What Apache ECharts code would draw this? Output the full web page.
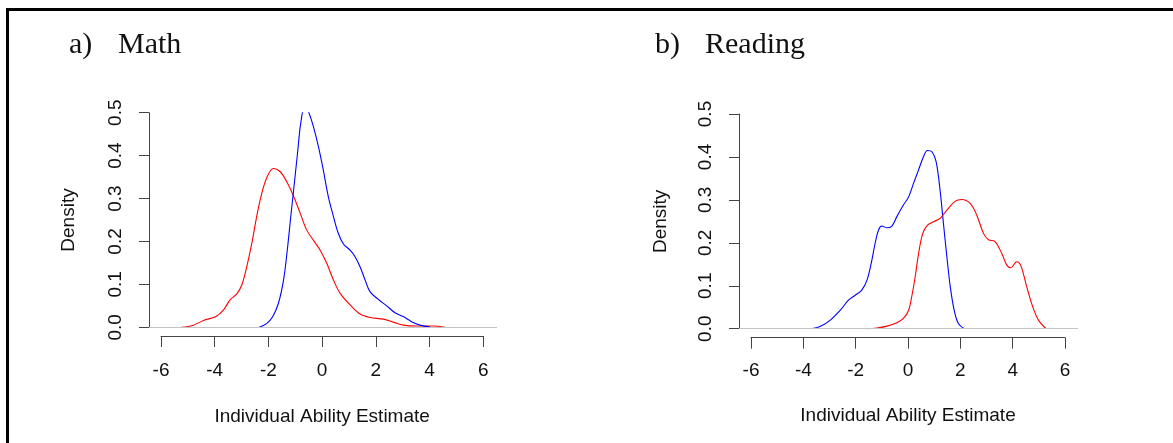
<!DOCTYPE html>
<html>
<head>
<meta charset="utf-8">
<script src="https://cdn.jsdelivr.net/npm/echarts@6/dist/echarts.min.js"></script>
<style>
  html, body { margin: 0; padding: 0; background: #fff; }
  #chart { width: 1173px; height: 443px; }
</style>
</head>
<body>
<div id="chart"></div>
<script>
// x ticks and y ticks shared by both panels
var xTicks = [-6, -4, -2, 0, 2, 4, 6];
var yTicks = [0, 0.1, 0.2, 0.3, 0.4, 0.5];

// a) Math - red curve
var mathRedX = [-5.27, -4.81, -4.44, -3.98, -3.70, -3.45, -3.20, -3.01, -2.83, -2.64, -2.46, -2.27, -2.08, -1.84, -1.59, -1.34, -1.09, -0.84, -0.60, -0.35, -0.10, 0.15, 0.40, 0.65, 1.02, 1.39, 1.76, 2.26, 2.63, 3.00, 3.50, 4.12, 4.55];
var mathRedY = [0.000, 0.005, 0.016, 0.025, 0.040, 0.064, 0.078, 0.099, 0.141, 0.196, 0.258, 0.312, 0.349, 0.370, 0.363, 0.339, 0.306, 0.266, 0.227, 0.203, 0.180, 0.149, 0.110, 0.079, 0.052, 0.031, 0.023, 0.019, 0.012, 0.005, 0.003, 0.003, 0.000];
// a) Math - blue curve
var mathBlueX = [-2.36, -2.08, -1.86, -1.65, -1.46, -1.32, -1.19, -1.07, -0.94, -0.82, -0.67, -0.53, -0.35, -0.16, 0.02, 0.21, 0.40, 0.58, 0.77, 1.02, 1.20, 1.39, 1.58, 1.76, 2.07, 2.38, 2.69, 3.00, 3.31, 3.62, 3.99];
var mathBlueY = [0.000, 0.009, 0.025, 0.056, 0.110, 0.180, 0.258, 0.328, 0.405, 0.475, 0.515, 0.502, 0.468, 0.421, 0.367, 0.304, 0.258, 0.219, 0.194, 0.180, 0.165, 0.141, 0.110, 0.083, 0.065, 0.050, 0.034, 0.025, 0.013, 0.005, 0.001];

// b) Reading - blue curve
var readBlueX = [-3.70, -3.35, -2.96, -2.58, -2.26, -2.01, -1.76, -1.56, -1.40, -1.25, -1.12, -0.99, -0.80, -0.61, -0.42, -0.17, 0.03, 0.22, 0.41, 0.60, 0.75, 0.92, 1.08, 1.23, 1.36, 1.49, 1.62, 1.77, 1.93, 2.15];
var readBlueY = [0.000, 0.005, 0.020, 0.043, 0.067, 0.078, 0.090, 0.113, 0.152, 0.199, 0.230, 0.239, 0.235, 0.239, 0.261, 0.288, 0.307, 0.339, 0.370, 0.401, 0.415, 0.412, 0.389, 0.323, 0.245, 0.168, 0.098, 0.043, 0.012, 0.000];
// b) Reading - red curve
var readRedX = [-1.59, -1.18, -0.80, -0.42, -0.17, 0.03, 0.15, 0.28, 0.41, 0.57, 0.75, 0.98, 1.23, 1.49, 1.81, 2.06, 2.38, 2.63, 2.89, 3.08, 3.33, 3.59, 3.78, 3.93, 4.16, 4.31, 4.54, 4.77, 4.99, 5.28];
var readRedY = [0.000, 0.0015, 0.006, 0.014, 0.024, 0.043, 0.075, 0.121, 0.175, 0.222, 0.241, 0.249, 0.257, 0.276, 0.297, 0.301, 0.292, 0.265, 0.222, 0.207, 0.203, 0.175, 0.148, 0.142, 0.156, 0.148, 0.098, 0.051, 0.020, 0.000];

function pairs(xs, ys) {
	var out = [];
	for (var i = 0; i < xs.length; i++) {
		out.push([xs[i], ys[i]]);
	}
	return out;
}

var axisColor = '#444';
var textColor = '#111';
var sans = 'Liberation Sans, Arial, sans-serif';
var serif = 'Liberation Serif, Times New Roman, serif';

// one panel = grid for curves + y axis, grid for the x axis
function panelAxes(p) {
	var grids = [
		{ left: p.left, top: p.yTop, width: p.width, height: p.yHeight },
		{ left: p.xLeft, top: p.yTop - 8.6, width: p.xWidth, height: p.axisY - (p.yTop - 8.6) }
	];
	var xAxes = [
		{ type: 'value', gridIndex: p.g, min: p.xMin, max: p.xMax, show: false },
		{
			type: 'value', gridIndex: p.g + 1, min: xTicks[0], max: xTicks[xTicks.length - 1], interval: 2, position: 'bottom',
			axisLine: { show: true, onZero: false, lineStyle: { color: axisColor, width: 1 } },
			axisTick: { show: true, length: 11, lineStyle: { color: axisColor } },
			axisLabel: { color: textColor, fontFamily: sans, fontSize: 19, margin: p.xLabelMargin },
			splitLine: { show: false },
			name: 'Individual Ability Estimate', nameLocation: 'middle', nameGap: p.xNameGap,
			nameTextStyle: { color: textColor, fontFamily: sans, fontSize: 19 }
		}
	];
	var yAxes = [
		{
			type: 'value', gridIndex: p.g, min: yTicks[0], max: yTicks[yTicks.length - 1], interval: 0.1,
			axisLine: { show: true, onZero: false, lineStyle: { color: axisColor, width: 1 } },
			axisTick: { show: true, length: 10, lineStyle: { color: axisColor } },
			axisLabel: {
				color: textColor, fontFamily: sans, fontSize: 19, rotate: 90, margin: 24,
				formatter: function (v) { return v.toFixed(1); }
			},
			splitLine: { show: false },
			name: 'Density', nameLocation: 'middle', nameRotate: 90, nameGap: p.yNameGap,
			nameTextStyle: { color: textColor, fontFamily: sans, fontSize: 19 }
		},
		{ type: 'value', gridIndex: p.g + 1, min: 0, max: 1, show: false }
	];
	return { grids: grids, xAxes: xAxes, yAxes: yAxes };
}

var pa = panelAxes({ g: 0, left: 149, width: 348, yTop: 112.7, yHeight: 214.6, xMin: -6.47, xMax: 6.49,
	xLeft: 161, xWidth: 322.3, axisY: 336, xLabelMargin: 25, xNameGap: 71, yNameGap: 71 });
var pb = panelAxes({ g: 2, left: 739, width: 339, yTop: 114, yHeight: 214.7, xMin: -6.45, xMax: 6.5,
	xLeft: 751, xWidth: 314, axisY: 337.7, xLabelMargin: 24, xNameGap: 69, yNameGap: 69 });

function curve(name, color, grid, data, withBase) {
	var s = {
		name: name,
		type: 'line',
		xAxisIndex: grid,
		yAxisIndex: grid,
		data: data,
		smooth: 0.35,
		showSymbol: false,
		symbol: 'none',
		lineStyle: { color: color, width: 1.1 },
		animation: false
	};
	if (withBase) {
		s.markLine = {
			silent: true,
			symbol: 'none',
			label: { show: false },
			lineStyle: { color: '#c4c4c4', width: 1, type: 'solid' },
			data: [{ yAxis: 0 }],
			animation: false
		};
	}
	return s;
}

var chart = echarts.init(document.getElementById('chart'));

var option = {
	backgroundColor: '#fff',
	animation: false,
	grid: pa.grids.concat(pb.grids),
	xAxis: pa.xAxes.concat(pb.xAxes),
	yAxis: pa.yAxes.concat(pb.yAxes),
	graphic: [
		{
			type: 'polyline', silent: true,
			shape: { points: [[7.5, 450], [7.5, 9.5], [1180, 9.5]] },
			style: { stroke: '#000', lineWidth: 3, fill: null }
		},
		{ type: 'text', left: 69, top: 30, style: { text: 'a)', font: '30px ' + serif, fill: '#111' } },
		{ type: 'text', left: 118, top: 30, style: { text: 'Math', font: '30px ' + serif, fill: '#111' } },
		{ type: 'text', left: 655, top: 30, style: { text: 'b)', font: '30px ' + serif, fill: '#111' } },
		{ type: 'text', left: 705, top: 30, style: { text: 'Reading', font: '30px ' + serif, fill: '#111' } }
	],
	series: [
		curve('Math red', '#ff0000', 0, pairs(mathRedX, mathRedY), true),
		curve('Math blue', '#0000ff', 0, pairs(mathBlueX, mathBlueY), false),
		curve('Reading blue', '#0000ff', 2, pairs(readBlueX, readBlueY), true),
		curve('Reading red', '#ff0000', 2, pairs(readRedX, readRedY), false)
	]
};

chart.setOption(option);
</script>
</body>
</html>
